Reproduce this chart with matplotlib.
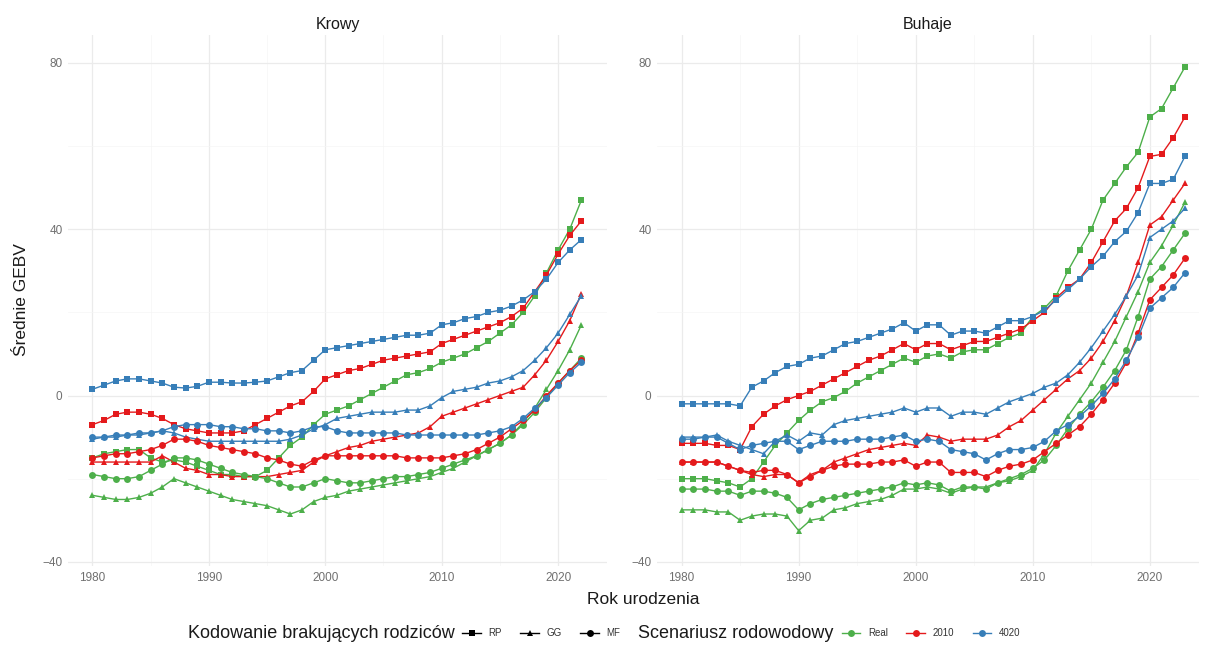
import numpy as np
import matplotlib
matplotlib.use('Agg')
import matplotlib.pyplot as plt
from matplotlib.lines import Line2D
from matplotlib.ticker import MultipleLocator

plt.rcParams.update({'font.family': ['Liberation Sans', 'DejaVu Sans'],
                     'axes.linewidth': 0, 'xtick.major.size': 0, 'ytick.major.size': 0,
                     'xtick.minor.size': 0, 'ytick.minor.size': 0})

# ── data: mean GEBV by birth year ───────────────────────────────────────────
years_krowy = np.arange(1980, 2023)
years_buhaje = np.arange(1980, 2024)

krowy_rp_real = [-15, -14, -13.5, -13, -13, -15, -16, -15.5, -16, -17,
                 -18, -19, -19, -19.5, -19.5, -18, -15, -12, -10, -7,
                 -4.5, -3.5, -2.5, -1, 0.5, 2, 3.5, 5, 5.5, 6.5,
                 8, 9, 10, 11.5, 13, 15, 17, 20, 24, 29.5,
                 35, 40, 47]
krowy_rp_2010 = [-7, -6, -4.5, -4, -4, -4.5, -5.5, -7, -8, -8.5,
                 -9, -9, -9, -8.5, -7, -5.5, -4, -2.5, -1.5, 1,
                 4, 5, 6, 6.5, 7.5, 8.5, 9, 9.5, 10, 10.5,
                 12.5, 13.5, 14.5, 15.5, 16.5, 17.5, 19, 21, 25, 29,
                 34, 38.5, 42]
krowy_rp_4020 = [1.5, 2.5, 3.5, 4, 4, 3.5, 3, 2, 1.8, 2.2,
                 3.2, 3.2, 3, 3, 3.2, 3.5, 4.5, 5.5, 6, 8.5,
                 11, 11.5, 12, 12.5, 13, 13.5, 14, 14.5, 14.5, 15,
                 17, 17.5, 18.5, 19, 20, 20.5, 21.5, 23, 25, 28,
                 32, 35, 37.5]
krowy_gg_real = [-24, -24.5, -25, -25, -24.5, -23.5, -22, -20, -21, -22,
                 -23, -24, -25, -25.5, -26, -26.5, -27.5, -28.5, -27.5, -25.5,
                 -24.5, -24, -23, -22.5, -22, -21.5, -21, -20.5, -20, -19.5,
                 -18.5, -17.5, -16, -14.5, -13, -11.5, -9.5, -6.5, -3, 1.5,
                 6, 11, 17]
krowy_gg_2010 = [-16, -16, -16, -16, -16, -16, -14.5, -16, -17.5, -18,
                 -19, -19, -19.5, -19.5, -19.5, -19.5, -19, -18.5, -18, -16,
                 -14.5, -13.5, -12.5, -12, -11, -10.5, -10, -9.5, -9, -7.5,
                 -5, -4, -3, -2, -1, 0, 1, 2, 5, 8.5,
                 13, 18, 24.5]
krowy_gg_4020 = [-10.5, -10, -10, -9.5, -9.5, -9, -8.5, -9, -10, -10.5,
                 -11, -11, -11, -11, -11, -11, -11, -10.5, -9.5, -8,
                 -7, -5.5, -5, -4.5, -4, -4, -4, -3.5, -3.5, -2.5,
                 -0.5, 1, 1.5, 2, 3, 3.5, 4.5, 6, 8.5, 11.5,
                 15, 19.5, 24]
krowy_mf_real = [-19, -19.5, -20, -20, -19.5, -18, -16.5, -15, -15, -15.5,
                 -16.5, -17.5, -18.5, -19, -19.5, -20, -21, -22, -22, -21,
                 -20, -20.5, -21, -21, -20.5, -20, -19.5, -19.5, -19, -18.5,
                 -17.5, -16.5, -15.5, -14.5, -13, -11.5, -9.5, -7, -4, -0.5,
                 3, 6, 9]
krowy_mf_2010 = [-15, -14.5, -14, -14, -13.5, -13, -12, -10.5, -10.5, -11,
                 -12, -12.5, -13, -13.5, -14, -15, -15.5, -16.5, -17, -15.5,
                 -14.5, -14.5, -14.5, -14.5, -14.5, -14.5, -14.5, -15, -15, -15,
                 -15, -14.5, -14, -13, -11.5, -10, -8, -6, -3.5, 0,
                 3, 6, 8.5]
krowy_mf_4020 = [-10, -10, -9.5, -9.5, -9, -9, -8.5, -7.5, -7, -7,
                 -7, -7.5, -7.5, -8, -8, -8.5, -8.5, -9, -8.5, -7.5,
                 -7.5, -8.5, -9, -9, -9, -9, -9, -9.5, -9.5, -9.5,
                 -9.5, -9.5, -9.5, -9.5, -9, -8.5, -7.5, -5.5, -3, -0.5,
                 2.5, 5.5, 8]

buhaje_rp_real = [-20, -20, -20, -20.5, -21, -22, -20, -16, -12, -9,
                  -6, -3.5, -1.5, -0.5, 1, 3, 4.5, 6, 7.5, 9,
                  8, 9.5, 10, 9, 10.5, 11, 11, 12.5, 14, 15,
                  19, 21, 24, 30, 35, 40, 47, 51, 55, 58.5,
                  67, 69, 74, 79]
buhaje_rp_2010 = [-11.5, -11.5, -11.5, -12, -12, -13, -7.5, -4.5, -2.5, -1,
                  0, 1, 2.5, 4, 5.5, 7, 8.5, 9.5, 11, 12.5,
                  11, 12.5, 12.5, 11, 12, 13, 13, 14, 15, 16,
                  18, 20, 23.5, 26, 28, 32, 37, 42, 45, 50,
                  57.5, 58, 62, 67]
buhaje_rp_4020 = [-2, -2, -2, -2, -2, -2.5, 2, 3.5, 5.5, 7,
                  7.5, 9, 9.5, 11, 12.5, 13, 14, 15, 16, 17.5,
                  15.5, 17, 17, 14.5, 15.5, 15.5, 15, 16.5, 18, 18,
                  19, 20.5, 23, 25.5, 28, 31, 33.5, 37, 39.5, 44,
                  51, 51, 52, 57.5]
buhaje_gg_real = [-27.5, -27.5, -27.5, -28, -28, -30, -29, -28.5, -28.5, -29,
                  -32.5, -30, -29.5, -27.5, -27, -26, -25.5, -25, -24, -22.5,
                  -22.5, -22, -22.5, -23.5, -22.5, -22, -22, -21, -20.5, -19.5,
                  -18, -14, -9, -5, -1, 3, 8, 13, 19, 25,
                  32, 36, 41, 46.5]
buhaje_gg_2010 = [-16, -16, -16, -16, -17, -18, -19, -19.5, -19, -19,
                  -21, -19, -18, -16, -15, -14, -13, -12.5, -12, -11.5,
                  -12, -9.5, -10, -11, -10.5, -10.5, -10.5, -9.5, -7.5, -6,
                  -3.5, -1, 1.5, 4, 6, 9, 13, 18, 24, 32,
                  41, 43, 47, 51]
buhaje_gg_4020 = [-10, -10, -10, -9.5, -11, -12, -13, -14, -11, -9.5,
                  -11, -9, -9.5, -7, -6, -5.5, -5, -4.5, -4, -3,
                  -4, -3, -3, -5, -4, -4, -4.5, -3, -1.5, -0.5,
                  0.5, 2, 3, 5, 8, 11.5, 15.5, 19.5, 24, 29,
                  38, 40, 42, 45]
buhaje_mf_real = [-22.5, -22.5, -22.5, -23, -23, -24, -23, -23, -23.5, -24.5,
                  -27.5, -26, -25, -24.5, -24, -23.5, -23, -22.5, -22, -21,
                  -21.5, -21, -21.5, -23, -22, -22, -22.5, -21, -20, -19,
                  -17.5, -15.5, -12, -8, -4.5, -1.5, 2, 6, 11, 19,
                  28, 31, 35, 39]
buhaje_mf_2010 = [-16, -16, -16, -16, -17, -18, -18.5, -18, -18, -19,
                  -21, -19.5, -18, -17, -16.5, -16.5, -16.5, -16, -16, -15.5,
                  -17, -16, -16, -18.5, -18.5, -18.5, -19.5, -18, -17, -16.5,
                  -15.5, -13.5, -11.5, -9.5, -7.5, -4.5, -1, 3, 8, 15,
                  23, 26, 29, 33]
buhaje_mf_4020 = [-10.5, -10.5, -10, -10, -11.5, -13, -12, -11.5, -11, -11,
                  -13, -12, -11, -11, -11, -10.5, -10.5, -10.5, -10, -9.5,
                  -11, -10.5, -11, -13, -13.5, -14, -15.5, -14, -13, -13,
                  -12.5, -11, -8.5, -7, -5, -2.5, 0.5, 4, 8.5, 14,
                  21, 23.5, 26, 29.5]

CODES = ['RP', 'GG', 'MF']
SCENARIOS = ['Real', '2010', '4020']
COLS = {'Real': '#4DAF4A', '2010': '#E41A1C', '4020': '#377EB8'}
MARKERS = {'RP': 's', 'GG': '^', 'MF': 'o'}

panels = {
    'Krowy': (years_krowy, {('RP', 'Real'): krowy_rp_real, ('RP', '2010'): krowy_rp_2010,
                            ('RP', '4020'): krowy_rp_4020, ('GG', 'Real'): krowy_gg_real,
                            ('GG', '2010'): krowy_gg_2010, ('GG', '4020'): krowy_gg_4020,
                            ('MF', 'Real'): krowy_mf_real, ('MF', '2010'): krowy_mf_2010,
                            ('MF', '4020'): krowy_mf_4020}),
    'Buhaje': (years_buhaje, {('RP', 'Real'): buhaje_rp_real, ('RP', '2010'): buhaje_rp_2010,
                              ('RP', '4020'): buhaje_rp_4020, ('GG', 'Real'): buhaje_gg_real,
                              ('GG', '2010'): buhaje_gg_2010, ('GG', '4020'): buhaje_gg_4020,
                              ('MF', 'Real'): buhaje_mf_real, ('MF', '2010'): buhaje_mf_2010,
                              ('MF', '4020'): buhaje_mf_4020}),
}

W, H = 1209, 648
fig = plt.figure(figsize=(W / 100, H / 100), dpi=100)
fig.patch.set_facecolor('white')

boxes = {'Krowy': (68, 539), 'Buhaje': (657, 542)}
top_px, bot_px = 35, 566

for name, (years, series) in panels.items():
    x0, w = boxes[name]
    ax = fig.add_axes([x0 / W, 1 - bot_px / H, w / W, (bot_px - top_px) / H])
    for code in CODES:
        for sc in SCENARIOS:
            ax.plot(years, series[(code, sc)], color=COLS[sc], marker=MARKERS[code],
                    ms=5, mew=0, lw=1.0, zorder=3)
    ax.set_xlim(1977.9, 2024.2)
    ax.set_ylim(-41, 86.7)
    ax.xaxis.set_major_locator(MultipleLocator(10))
    ax.xaxis.set_minor_locator(MultipleLocator(5))
    ax.yaxis.set_major_locator(MultipleLocator(40))
    ax.yaxis.set_minor_locator(MultipleLocator(20))
    ax.grid(which='major', color='#EBEBEB', lw=0.9, zorder=0)
    ax.grid(which='minor', color='#F5F5F5', lw=0.5, zorder=0)
    ax.set_axisbelow(True)
    for s in ax.spines.values():
        s.set_visible(False)
    ax.tick_params(labelsize=8.5, colors='#707070', pad=4)
    # facet strip label
    fig.text((x0 + w / 2) / W, 1 - 25 / H, name, ha='center', va='center',
             fontsize=11.5, color='#1A1A1A')

fig.text(22 / W, 1 - 300 / H, 'Średnie GEBV', rotation=90, va='center', ha='center',
         fontsize=12.5, color='#1A1A1A')
fig.text(643 / W, 1 - 600 / H, 'Rok urodzenia', va='center', ha='center',
         fontsize=12.5, color='#1A1A1A')

# ── legend row: two titled key groups, centred under the panels ─────────────
leg_y = 1 - 633 / H
code_handles = [Line2D([], [], color='black', marker=MARKERS[c], ms=5, mew=0, lw=1.0)
                for c in CODES]
scen_handles = [Line2D([], [], color=COLS[s], marker='o', ms=5, mew=0, lw=1.0)
                for s in SCENARIOS]

renderer = fig.canvas.get_renderer()
parts = []
for title, handles, labels in [('Kodowanie brakujących rodziców', code_handles, CODES),
                               ('Scenariusz rodowodowy', scen_handles, SCENARIOS)]:
    t = fig.text(0, leg_y, title, va='center', ha='left', fontsize=13, color='#1A1A1A')
    leg = fig.legend(handles, labels, loc='center left', bbox_to_anchor=(0, leg_y),
                     ncol=3, frameon=False, fontsize=7, handlelength=1.9,
                     handletextpad=0.8, columnspacing=1.9, borderaxespad=0, borderpad=0)
    for txt in leg.get_texts():
        txt.set_color('#333333')
    parts.append((t, leg))

gap_title, gap_group = 8, 18
widths = [(t.get_window_extent(renderer).width, leg.get_window_extent(renderer).width)
          for t, leg in parts]
total = sum(a + b for a, b in widths) + 2 * gap_title + gap_group
x = 604 - total / 2
for (t, leg), (tw, lw) in zip(parts, widths):
    t.set_x(x / W)
    x += tw + gap_title
    leg.set_bbox_to_anchor((x / W, leg_y), transform=fig.transFigure)
    x += lw + gap_group

fig.savefig('out.png', dpi=100, facecolor='white')
